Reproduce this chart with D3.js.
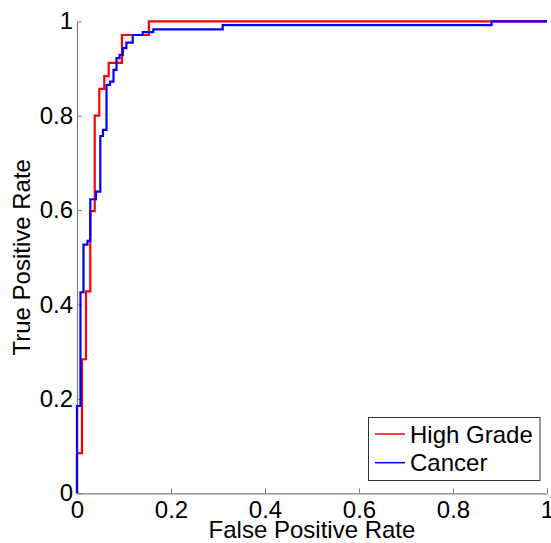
<!DOCTYPE html>
<html><head><meta charset="utf-8">
<script src="https://cdn.jsdelivr.net/npm/d3@7"></script>
<style>
html,body{margin:0;padding:0;background:#fff;}
text{font-family:"Liberation Sans",Arial,Helvetica,sans-serif;}
</style></head>
<body><svg id="chart" width="551" height="543"></svg>
<script>
// ---- data ----
const seriesNames = ["High Grade", "Cancer"];
const seriesColors = ["#ff0000", "#0000ff"];
// High Grade ROC steps: FPR at each step, TPR reached after the step
const highGradeFpr = [0, 0.0106, 0.0191, 0.0283, 0.0377, 0.0474, 0.0581, 0.0674, 0.0957, 0.153, 1];
const highGradeTpr = [0.085, 0.284, 0.428, 0.598, 0.80, 0.857, 0.884, 0.912, 0.971, 1.0, 1];
// Cancer ROC steps
const cancerFpr = [0, 0.0074, 0.0138, 0.0223, 0.0283, 0.0404, 0.0496, 0.0553, 0.0628, 0.0702, 0.0777, 0.0840, 0.0905, 0.0975, 0.1050, 0.1185, 0.1398, 0.1623, 0.310, 0.882, 1];
const cancerTpr = [0.185, 0.426, 0.527, 0.535, 0.623, 0.639, 0.757, 0.770, 0.865, 0.872, 0.897, 0.922, 0.929, 0.943, 0.955, 0.971, 0.977, 0.983, 0.992, 1.0, 1];
const xTicks = [0, 0.2, 0.4, 0.6, 0.8, 1];
const yTicks = [0, 0.2, 0.4, 0.6, 0.8, 1];
const xTitle = "False Positive Rate";
const yTitle = "True Positive Rate";

// ---- layout ----
const svg = d3.select("#chart");
const mLeft = 77, mRight = 547, mTop = 21.3, mBottom = 493.3;
const x = d3.scaleLinear().domain([0, 1]).range([mLeft, mRight]);
const y = d3.scaleLinear().domain([0, 1]).range([mBottom, mTop]);
const fontSize = 24;
const axisColor = "#7f7f7f";

// axes
const fmt = d => String(+d.toFixed(1));
const xAxis = d3.axisBottom(x).tickValues(xTicks).tickSizeInner(-5).tickSizeOuter(0).tickFormat(fmt);
const yAxis = d3.axisLeft(y).tickValues(yTicks).tickSizeInner(-5).tickSizeOuter(0).tickFormat(fmt);

const gx = svg.append("g").attr("transform", `translate(0,${mBottom})`).call(xAxis);
const gy = svg.append("g").attr("transform", `translate(${mLeft},0)`).call(yAxis);
[gx, gy].forEach(g => {
  g.select(".domain").attr("stroke", axisColor).attr("stroke-width", 1.2);
  g.selectAll(".tick line").attr("stroke", axisColor).attr("stroke-width", 1);
  g.selectAll(".tick text").attr("fill", "#000").style("font-size", fontSize + "px")
   .style("font-family", '"Liberation Sans",Arial,sans-serif');
});
gx.selectAll(".tick text").attr("dy", "0").attr("y", 24.5);
gy.selectAll(".tick text").attr("x", -4);

// titles
svg.append("text").attr("x", (mLeft + mRight) / 2).attr("y", 538)
  .attr("text-anchor", "middle").style("font-size", fontSize + "px").text(xTitle);
svg.append("text").attr("transform", `translate(30,${(mTop + mBottom) / 2}) rotate(-90)`)
  .attr("text-anchor", "middle").style("font-size", fontSize + "px").text(yTitle);

// curves
const series = [
  { name: seriesNames[0], color: seriesColors[0], pts: [[0, 0]].concat(highGradeFpr.map((f, i) => [f, highGradeTpr[i]])) },
  { name: seriesNames[1], color: seriesColors[1], pts: [[0, 0]].concat(cancerFpr.map((f, i) => [f, cancerTpr[i]])) }
];
const line = d3.line().x(d => x(d[0])).y(d => y(d[1])).curve(d3.curveStepAfter);
svg.append("g").selectAll("path").data(series).join("path")
  .attr("d", d => line(d.pts)).attr("fill", "none")
  .attr("stroke", d => d.color).attr("stroke-width", 2.2);

// legend
const lg = svg.append("g");
lg.append("rect").attr("x", 368.5).attr("y", 417.5).attr("width", 171.5).attr("height", 63)
  .attr("fill", "#fff").attr("stroke", "#333").attr("stroke-width", 1);
series.forEach((s, i) => {
  const yy = 434 + i * 28.7;
  lg.append("line").attr("x1", 375).attr("x2", 405).attr("y1", yy).attr("y2", yy)
    .attr("stroke", s.color).attr("stroke-width", 1.5);
  lg.append("text").attr("x", 410).attr("y", yy + 8.5).style("font-size", fontSize + "px").text(s.name);
});
</script></body></html>
